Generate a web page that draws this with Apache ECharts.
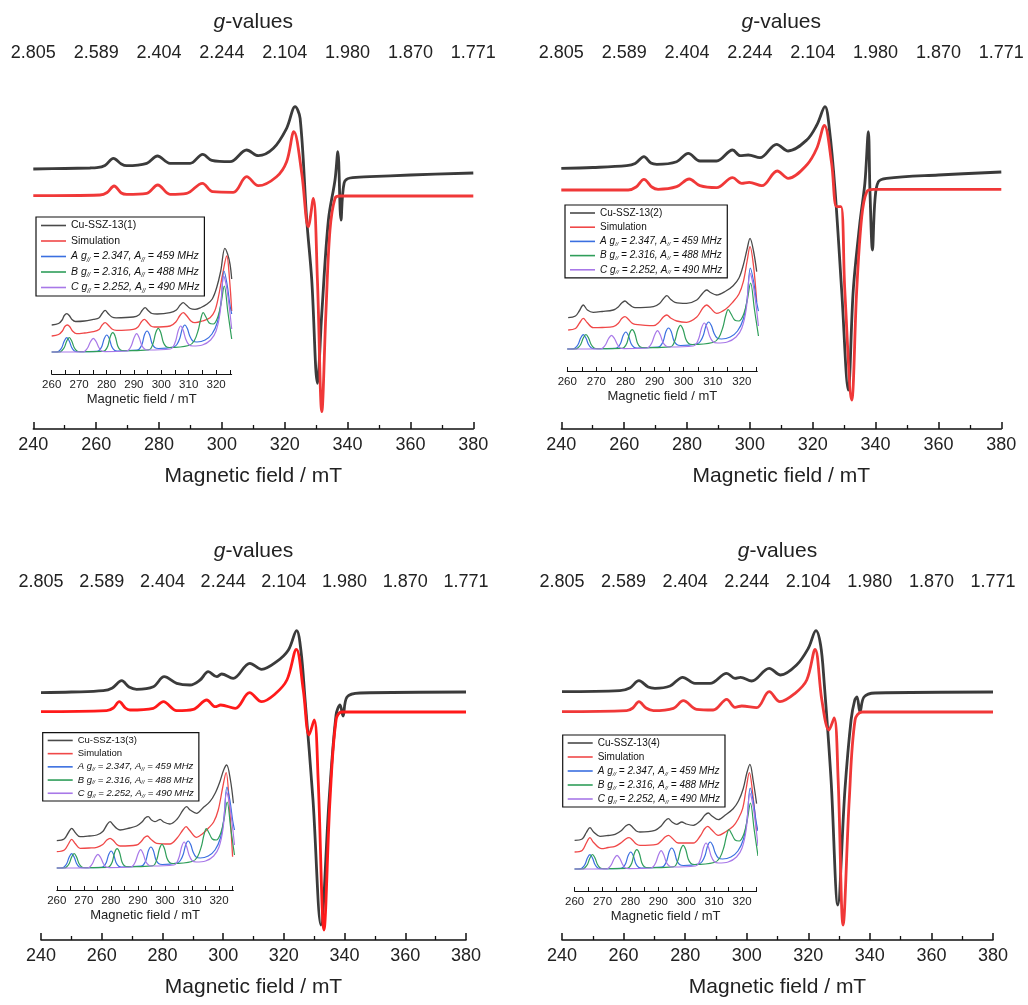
<!DOCTYPE html>
<html><head><meta charset="utf-8">
<script src="https://cdn.jsdelivr.net/npm/echarts@6/dist/echarts.min.js"></script>
<style>html,body{margin:0;padding:0;background:#fff}#c{width:1028px;height:1005px}</style>
</head><body><div id="c"></div>
<script>
// ---------- data (field in mT, intensity in arbitrary units) ----------
const fieldTicks = [240, 260, 280, 300, 320, 340, 360, 380];
const gLabels = ['2.805', '2.589', '2.404', '2.244', '2.104', '1.980', '1.870', '1.771'];
const insetLabelTicks = [260, 270, 280, 290, 300, 310, 320];
const insetMinorTicks = [260, 265, 270, 275, 280, 285, 290, 295, 300, 305, 310, 315, 320, 325];
const sampleNames = ['Cu-SSZ-13(1)', 'Cu-SSZ-13(2)', 'Cu-SSZ-13(3)', 'Cu-SSZ-13(4)'];
const simName = 'Simulation';
const compNames = ['A g// = 2.347, A// = 459 MHz', 'B g// = 2.316, A// = 488 MHz', 'C g// = 2.252, A// = 490 MHz'];

const exp1 = [[240,260],[250,260.5],[258,261],[260.2,261.3],[262.8,263.5],[265.5,270.7],[268,265],[269.7,263.3],[276.1,265.7],[279.5,273],[283.5,265.7],[289.9,265.7],[293.9,274.7],[296.8,268.7],[302.6,267.3],[307.9,279],[311.6,273.3],[316.4,280.7],[320.6,300.7],[323.3,322.3],[324.9,310.7],[327,209],[328.6,149],[330.4,45.7],[331.8,116],[333.9,209],[336,249],[336.9,277.3],[337.9,209],[338.9,246],[340.8,251],[347.1,252.3],[360,254],[380,256]];
const sim1 = [[240,233.3],[261.2,234],[263.5,236.5],[265.7,243],[268,236],[269.7,234.7],[276.1,235.7],[279.6,244],[283.5,234.7],[288.8,235.7],[293.8,245.7],[297.1,237.3],[303.6,236.7],[307.9,252.3],[311.6,243.3],[317.4,252.3],[320.6,267.3],[322.9,297.3],[325.4,256],[327.5,202.3],[329.1,230.7],[330.4,149],[331.8,17.3],[333.1,116],[334.4,199],[336,230.7],[337.6,233],[380,233]];
const exp2 = [[240,260.7],[250,261.5],[260.8,263.3],[263.5,265.5],[266.3,272.3],[268.5,266],[270.4,264.7],[276.7,267.3],[280.4,275.7],[284.1,268],[289.4,268],[294.5,279],[296.9,273.3],[299.5,274],[303.2,271.3],[308.5,284.7],[312.2,278],[318.1,289],[321.3,304],[323.9,322.3],[325.3,300],[327.1,239],[329.2,139],[331.3,39],[332.9,139],[335,206],[336.6,246],[337.7,297.3],[338.2,239],[339,179],[339.8,229],[340.9,247.3],[343.5,250.7],[360,254],[380,257]];
const sim2 = [[240,239],[261.3,239],[263.8,242],[266.3,249.7],[268.8,242],[270.8,239.7],[276.7,242.3],[280.7,250],[284.1,243.3],[289.4,241.3],[294.5,251.3],[297.4,245.7],[299.8,246.7],[303.8,243.3],[308.7,258],[312.2,250.7],[318.1,264],[321.3,280.7],[323.7,303.7],[326,266],[327.6,222.3],[329,222.3],[330.2,139],[332.4,29],[334,139],[335.6,212.3],[337.2,237.3],[339.3,239.7],[380,239.7]];
const exp3 = [[240,247.3],[250,248],[260.5,249.3],[263.5,252],[266.6,259.3],[269,253],[271.5,250.7],[277,253.3],[280.6,263.3],[284.7,256.7],[289.1,255],[292.4,260],[295.1,268.3],[297.9,263.3],[299.5,266],[303.3,261.7],[308.8,276.7],[312.7,270.7],[317.6,278.3],[321.5,290],[324.2,309.3],[325.6,290],[327,240],[329.6,140],[332.2,15],[334.9,140],[337.2,225],[338.5,235],[339.5,224],[340.8,243],[345.1,247],[380,248]];
const sim3 = [[240,228.3],[261.6,229.3],[263.8,232],[265.8,238.3],[267.8,232],[269.3,230],[277,231.7],[280.3,238.3],[284.7,229.3],[290.2,230.7],[294.6,240],[297.4,233.3],[299.2,235],[304,231.7],[308.7,247.3],[312.7,238.3],[317.1,246],[321,260],[324.1,290.7],[326.4,250],[328.3,205],[330,220],[331.3,160],[333.2,10],[335.2,140],[337.2,220],[339.1,228],[380,228]];
const exp4 = [[240,248.3],[258.8,249.3],[262,252],[265,259.3],[268,253],[270.2,251.7],[275.1,254],[279.2,262.7],[283.2,256.7],[288.1,256.7],[293.5,266.7],[296.2,261.7],[298,262.7],[301.6,259],[307.3,271.7],[311,265],[316.2,275],[320,291.7],[322.5,309.3],[324,295],[325.1,260],[327.4,160],[329.6,35],[331.9,150],[333.9,220],[335.1,240],[335.8,243],[336.8,228],[338.1,243],[341.7,247],[380,248]];
const sim4 = [[240,228.3],[261,229.3],[263,232],[265,238.3],[267.3,232],[269.7,229.3],[276.2,231.7],[279.4,239.3],[283.7,230.7],[289.1,230],[293.5,240.7],[296.2,232.7],[298.4,234],[303.2,232.3],[307.3,248.3],[310.8,238.3],[315.7,246.7],[319.5,260],[322.2,290.7],[324.4,240],[326.7,210],[328.4,222],[329.7,160],[331.3,15],[333.3,140],[335.2,220],[337.5,228],[380,228]];

const insetExp1 = [[260,49],[262.5,50.5],[263.8,54],[264.6,58.5],[265.5,60.3],[266.4,58.5],[267.4,54.5],[268.7,52.5],[272,53],[275.2,54.7],[277.2,56],[278.4,60.5],[279.5,63.7],[280.6,60.5],[282,57],[283.5,56.2],[289.8,57],[291.8,59],[293,63.5],[294.1,66.3],[295.2,63.5],[296.6,60.5],[298.5,60],[303.2,61.3],[305.5,64],[306.9,69],[308,71.3],[309.1,69],[310.6,65.5],[312.3,64.7],[314.5,66.5],[316.6,69.7],[318.6,75],[320.2,86.3],[321.7,103],[323.2,125.7],[324.2,120],[325.1,109.7],[325.7,95]];
const insetSim1 = [[260,38],[262.5,39.5],[263.9,43],[264.8,47.5],[265.7,49],[266.6,47.3],[267.6,43],[269.1,40.3],[272,41],[275.2,42.3],[277.3,44.5],[278.4,49],[279.5,51.3],[280.6,49],[282,45],[283.7,43.7],[289.8,44.7],[291.5,47],[292.7,52],[293.8,54.7],[294.9,52],[296.2,48],[297.5,47],[303.2,48],[305.3,52],[306.8,58.5],[308,61.3],[309.2,58.5],[310.8,53],[312.3,51.3],[315,53],[317.8,56.3],[319.5,63],[320.8,76.3],[322.4,100],[323.9,118],[324.9,95],[325.7,63]];
const insetExp2 = [[260.3,53.3],[262.8,55],[264.1,60],[265.5,66],[266.9,61],[268.9,58.7],[272,59.5],[275.8,61],[277.5,64],[278.7,68],[279.8,70],[280.9,67.5],[282.2,64.5],[283.3,63.3],[289.6,64.3],[291.7,67.5],[293.1,72.5],[294.2,75.3],[295.4,72],[297,68.7],[301,67.7],[304.5,71],[306.6,78],[307.9,81],[309.2,78.5],[311.3,76],[314.5,80],[317,85.3],[319,93],[320.5,106],[321.8,122],[322.8,132.7],[324,120],[325.1,99.3]];
const insetSim2 = [[260.3,41],[262.8,42.5],[264.2,48],[265.5,52.7],[266.8,48.5],[268.9,43.3],[272,43.5],[275.8,44.3],[277.6,48],[278.7,52.5],[279.8,54.3],[280.9,52],[282.2,48],[283.3,46.7],[289.6,45.3],[291.6,49],[293,54],[294.2,56],[295.5,53],[297.6,50],[301,48.7],[304.5,54],[306.6,63],[307.9,66],[309.2,63],[311.3,57.7],[314.5,62],[317,69.3],[319,77],[320.5,89.3],[321.8,110],[322.8,124.3],[324,105],[325.1,69.3]];
const insetExp3 = [[260,49.3],[262.7,51],[264.2,57],[265.5,61.7],[266.8,57.5],[268.6,53.3],[272,54],[274.8,55],[277,58.5],[278.5,65],[279.7,68.3],[280.9,65],[282.2,61.5],[283.4,60],[287,62],[289.5,64],[291.5,68],[292.7,72],[293.8,73.3],[295,70],[296.3,68.3],[297.3,69.5],[298.2,70.7],[299.5,68],[301.8,66],[304.5,71],[306.7,80],[308,83.3],[309.3,80],[311.7,76.7],[314,82],[316.6,88.3],[318.6,97],[320.3,108.3],[321.7,120],[322.8,125],[324.2,110],[325.3,86.7]];
const insetSim3 = [[260,38.3],[262.8,40],[264.3,46],[265.5,50.7],[266.8,46.5],[268.6,41.7],[272,42],[274.8,42.7],[277,45.5],[278.5,50],[279.7,51.7],[280.9,49.5],[282.2,45.5],[283.4,44],[289.5,45],[291.2,48.5],[292.4,52.5],[293.5,54],[294.7,51],[296.9,46.7],[301.8,46],[304.5,52],[306.6,60],[307.8,63.3],[309,60],[311.7,52.7],[313.8,56],[316,61.7],[318,68],[319.7,80],[321.3,102],[322.6,117.3],[323.8,85],[325,33.3]];
const insetExp4 = [[260,50.7],[262.7,52],[264.2,58.5],[265.5,63.3],[266.8,59],[269.1,54.7],[272,55.5],[274.5,56.7],[276.8,60.5],[278.3,65],[279.5,66.7],[280.7,64],[282.1,60],[283.4,59],[288.8,60.7],[291,65],[292.4,70],[293.6,72.3],[294.9,69],[296.6,66.7],[298.4,69],[300,67],[302.5,65.7],[305,70],[306.7,76],[307.9,78],[309.2,75],[311.5,71.3],[314,76],[316.8,82.3],[318.7,90],[320.4,102.3],[321.7,118],[322.8,126.7],[324,110],[325.2,87.3]];
const insetSim4 = [[260,39],[262.7,40.5],[264.2,48],[265.5,53.3],[266.8,48.5],[269.7,42.3],[272,43.5],[274.5,44.7],[276.8,48.5],[278.3,52],[279.5,53.3],[280.7,51],[282.1,47],[283.4,45.7],[289.4,46.7],[291.2,50.5],[292.4,54],[293.6,55.7],[294.9,53],[297.1,48],[302.5,48],[305,55],[306.5,62],[307.7,64.7],[309,61.5],[311.5,55.7],[314,59],[316.8,64.7],[318.6,72],[320.2,82.3],[321.5,103],[322.6,118.3],[323.9,95],[325.2,60]];

const compA = [[260,22],[262,22.2],[262.7,23],[263.7,26.5],[264.6,33],[265.5,36.3],[266.4,33],[267.3,26.5],[268.3,23],[269.5,22.4],[276.5,22.6],[277.3,23.5],[278.3,27.5],[279.2,35.5],[280.1,39],[281,35.5],[281.9,27.5],[282.9,23.8],[284,23],[291,23.8],[292,25],[293,30],[293.9,39.5],[294.8,43],[295.7,39.5],[296.6,30.5],[297.6,26.5],[299,25.5],[304.5,27],[305.7,29.5],[306.8,36],[307.7,45.5],[308.6,49],[309.5,45.5],[310.4,38],[311.5,33],[313,32],[316,34],[318.5,40],[320.5,52],[321.8,72],[322.9,103],[324,90],[325,70],[325.7,60]];
const compB = [[260,22],[263,22.2],[263.6,23],[264.6,26.5],[265.5,33],[266.4,36.5],[267.3,33],[268.2,26.5],[269.2,23],[270.5,22.4],[278.7,22.6],[279.5,23.5],[280.5,28],[281.4,37.5],[282.3,41.3],[283.2,37.5],[284.1,28],[285.1,24],[286.5,23.3],[295.3,24.2],[296.2,25.5],[297.1,31.5],[298,41.5],[298.9,45.7],[299.8,41.5],[300.7,32],[301.7,27.5],[303,26.5],[310,28.5],[312,33],[313.5,44],[314.4,55],[315.3,61.3],[316.3,57],[317.5,51],[319,50],[320.5,56],[321.8,70],[323,88],[324.3,62],[325.7,35]];
const compC = [[260,22],[271.5,22.2],[272.2,23],[273.2,26.5],[274.2,32.5],[275.2,35.7],[276.2,32.5],[277.2,26.5],[278.2,23],[279.5,22.4],[287.3,23],[288.1,24],[289.1,28.5],[290.1,36.5],[291,40.3],[291.9,36.5],[292.9,28.5],[293.9,25],[295,24],[303.3,25],[304.3,27],[305.3,33.5],[306.2,43.5],[307.1,48],[308,43.5],[308.9,35],[310,29.5],[311.5,28],[315,29],[318,34],[320,43],[321.5,62],[322.8,98],[324,84],[325.7,45]];

// ---------- layout ----------
const FONT = 'Liberation Sans, Arial, sans-serif';
const mains = [
  {left: 33.3, width: 440, top: 70, height: 359, exp: exp1, sim: sim1, red: '#f03838'},
  {left: 561.3, width: 440, top: 70, height: 359, exp: exp2, sim: sim2, red: '#f03838'},
  {left: 41, width: 425, top: 599, height: 341, exp: exp3, sim: sim3, red: '#ff1a1a'},
  {left: 562, width: 431, top: 599, height: 341, exp: exp4, sim: sim4, red: '#f03838'}
];
const insets = [
  {left: 51.7, width: 180, top: 230, height: 144, max: 325.7, exp: insetExp1, sim: insetSim1, lg: {left: 36, top: 217, fs: 10.5, lh: 13, gap: 2.5}},
  {left: 567.3, width: 190, top: 225, height: 146, max: 325.3, exp: insetExp2, sim: insetSim2, lg: {left: 565, top: 205, fs: 10, lh: 12, gap: 2.2}},
  {left: 56.8, width: 176.6, top: 745, height: 145, max: 325.3, exp: insetExp3, sim: insetSim3, lg: {left: 42.7, top: 732.7, fs: 9.5, lh: 11.5, gap: 1.7}},
  {left: 574.6, width: 182, top: 745, height: 146, max: 325.2, exp: insetExp4, sim: insetSim4, lg: {left: 562.7, top: 735, fs: 10, lh: 12, gap: 2}}
];
const compColors = ['#3a6fe0', '#2f9e5a', '#a878e8'];

const grid = [], xAxis = [], yAxis = [], series = [], legend = [];
mains.forEach((m, i) => {
  grid.push({left: m.left, width: m.width, top: m.top, height: m.height, containLabel: false});
  const gi = grid.length - 1;
  xAxis.push({
    gridIndex: gi, type: 'value', min: 240, max: 380, interval: 20, position: 'bottom',
    axisLine: {show: true, lineStyle: {color: '#111', width: 1.5}},
    axisTick: {show: true, inside: true, length: 7, lineStyle: {color: '#111', width: 1.5}},
    minorTick: {show: true, splitNumber: 2, length: 4, lineStyle: {color: '#111', width: 1.3}},
    axisLabel: {fontSize: 18, color: '#222', fontFamily: FONT, margin: 7},
    splitLine: {show: false},
    name: 'Magnetic field / mT', nameLocation: 'middle', nameGap: 37,
    nameTextStyle: {fontSize: 21, color: '#222', fontFamily: FONT}
  });
  const bx = xAxis.length - 1;
  xAxis.push({
    gridIndex: gi, type: 'value', min: 240, max: 380, interval: 20, position: 'top',
    axisLine: {show: false}, axisTick: {show: false}, splitLine: {show: false},
    axisLabel: {fontSize: 18, color: '#222', fontFamily: FONT, margin: 8,
      formatter: v => gLabels[fieldTicks.indexOf(v)]},
    name: '{i|g}{n|-values}', nameLocation: 'middle', nameGap: 37,
    nameTextStyle: {fontSize: 21, color: '#222', fontFamily: FONT,
      rich: {i: {fontStyle: 'italic', fontSize: 21, color: '#222', fontFamily: FONT},
             n: {fontSize: 21, color: '#222', fontFamily: FONT}}}
  });
  yAxis.push({gridIndex: gi, type: 'value', min: 0, max: m.height, show: false});
  const yi = yAxis.length - 1;
  series.push({name: 'exp-main-' + (i + 1), type: 'line', xAxisIndex: bx, yAxisIndex: yi, data: m.exp,
    smooth: 0.35, symbol: 'none', lineStyle: {color: '#3b3b3b', width: 2.8}, itemStyle: {color: '#3b3b3b'}});
  series.push({name: 'sim-main-' + (i + 1), type: 'line', xAxisIndex: bx, yAxisIndex: yi, data: m.sim,
    smooth: 0.35, symbol: 'none', lineStyle: {color: m.red, width: 2.8}, itemStyle: {color: m.red}});
});

function richName(n) {
  if (n.indexOf('//') < 0) return '{n|' + n + '}';
  return '{it|' + n.split('//').join('}{sub|//}{it|') + '}';
}

insets.forEach((s, i) => {
  grid.push({left: s.left, width: s.width, top: s.top, height: s.height});
  const gi = grid.length - 1;
  xAxis.push({
    gridIndex: gi, type: 'value', min: 260, max: s.max,
    axisLine: {show: true, lineStyle: {color: '#111', width: 1}},
    axisTick: {show: true, inside: true, length: 4, customValues: insetMinorTicks, lineStyle: {color: '#111', width: 1}},
    axisLabel: {fontSize: 11.5, color: '#222', fontFamily: FONT, margin: 5, customValues: insetLabelTicks},
    splitLine: {show: false},
    name: 'Magnetic field / mT', nameLocation: 'middle', nameGap: 19,
    nameTextStyle: {fontSize: 13, color: '#222', fontFamily: FONT}
  });
  const xi = xAxis.length - 1;
  yAxis.push({gridIndex: gi, type: 'value', min: 0, max: s.height, show: false});
  const yi = yAxis.length - 1;
  const base = {type: 'line', xAxisIndex: xi, yAxisIndex: yi, smooth: 0.35, symbol: 'none'};
  series.push(Object.assign({}, base, {name: sampleNames[i], data: s.exp, lineStyle: {color: '#4a4a4a', width: 1.3}, itemStyle: {color: '#4a4a4a'}}));
  series.push(Object.assign({}, base, {name: simName, data: s.sim, lineStyle: {color: '#f04848', width: 1.3}, itemStyle: {color: '#f04848'}}));
  [compA, compB, compC].forEach((c, k) => {
    series.push(Object.assign({}, base, {name: compNames[k], data: c, lineStyle: {color: compColors[k], width: 1.2}, itemStyle: {color: compColors[k]}}));
  });
  const fs = s.lg.fs, lh = s.lg.lh;
  legend.push({
    left: s.lg.left, top: s.lg.top, orient: 'vertical', selectedMode: false,
    data: [sampleNames[i], simName].concat(compNames),
    icon: 'rect', itemWidth: 25, itemHeight: 1.6, itemGap: s.lg.gap,
    padding: [2, 5, 2, 5], borderColor: '#111', borderWidth: 1.2, backgroundColor: '#fff',
    formatter: richName,
    textStyle: {fontSize: fs, color: '#111', fontFamily: FONT, lineHeight: lh,
      rich: {n: {fontSize: fs, color: '#111', fontFamily: FONT, lineHeight: lh},
             it: {fontSize: fs, fontStyle: 'italic', color: '#111', fontFamily: FONT, lineHeight: lh},
             sub: {fontSize: fs * 0.6, fontStyle: 'italic', color: '#111', fontFamily: FONT, lineHeight: lh, verticalAlign: 'bottom'}}}
  });
});

const chart = echarts.init(document.getElementById('c'), null, {renderer: 'canvas'});
chart.setOption({animation: false, backgroundColor: '#fff', grid, xAxis, yAxis, series, legend});
</script></body></html>
